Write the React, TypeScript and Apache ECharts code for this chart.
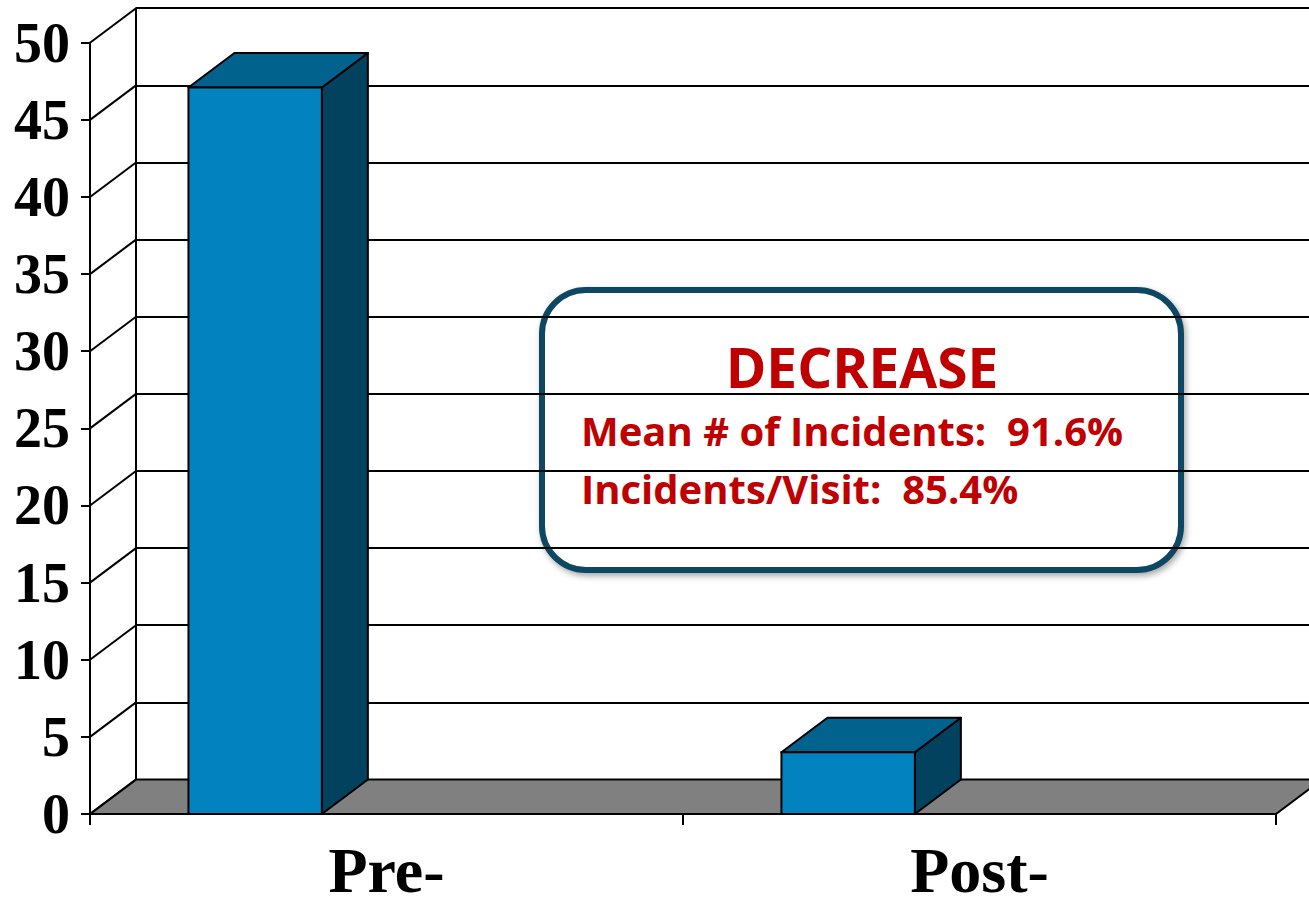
import { useEffect, useRef } from "react";
import * as echarts from "echarts";

// Chart data
const categories = ["Pre-", "Post-"];
const incidents = [47.1, 4.0];
const yTicks = [0, 5, 10, 15, 20, 25, 30, 35, 40, 45, 50];
const boxTitle = "DECREASE";
const boxLines = ["Mean # of Incidents:  91.6%", "Incidents/Visit:  85.4%"];

// 3D projection offset (front plane -> back wall)
const DEPTH_X = 46;
const DEPTH_Y = -34.5;

const FRONT = { left: 90, top: 42.7, width: 1186, height: 771.3 };

export default function App() {
  const ref = useRef<HTMLDivElement>(null);

  useEffect(() => {
    if (!ref.current) return;
    const chart = echarts.init(ref.current, undefined, { renderer: "svg" });

    const stroke = { stroke: "#000", lineWidth: 2 };

    const option: any = {
      animation: false,
      backgroundColor: "#fff",
      grid: [
        { ...FRONT },
        {
          left: FRONT.left + DEPTH_X,
          top: FRONT.top + DEPTH_Y,
          width: FRONT.width,
          height: FRONT.height,
        },
      ],
      xAxis: [
        {
          type: "category",
          gridIndex: 0,
          data: categories,
          boundaryGap: true,
          axisLine: { show: true, lineStyle: { color: "#000", width: 2 } },
          axisTick: { show: true, length: 11, interval: 0, lineStyle: { color: "#000", width: 2 } },
          axisLabel: {
            interval: 0,
            margin: 31,
            lineHeight: 50,
            color: "#000",
            fontFamily: "Liberation Serif",
            fontWeight: "bold",
            fontSize: 64,
          },
        },
        {
          type: "category",
          gridIndex: 1,
          data: categories,
          show: false,
        },
      ],
      yAxis: [
        {
          type: "value",
          gridIndex: 0,
          min: 0,
          max: 50,
          interval: 5,
          axisLine: { show: true, lineStyle: { color: "#000", width: 2 } },
          axisTick: { show: true, length: 9, lineStyle: { color: "#000", width: 2 } },
          splitLine: { show: false },
          axisLabel: {
            margin: 20,
            color: "#000",
            fontFamily: "Liberation Serif",
            fontWeight: "bold",
            fontSize: 56,
          },
        },
        {
          type: "value",
          gridIndex: 1,
          min: 0,
          max: 50,
          interval: 5,
          axisLine: { show: true, lineStyle: { color: "#000", width: 2 } },
          axisTick: { show: false },
          axisLabel: { show: false },
          splitLine: { show: true, lineStyle: { color: "#000", width: 2 } },
        },
      ],
      series: [
        {
          // floor of the plot
          type: "custom",
          xAxisIndex: 0,
          yAxisIndex: 0,
          z: 1,
          data: [[0, 0]],
          encode: { x: 0, y: 1 },
          renderItem: (params: any, api: any) => {
            const cs = params.coordSys;
            const y0 = api.coord([0, 0])[1];
            return {
              type: "polygon",
              shape: {
                points: [
                  [cs.x, y0],
                  [cs.x + DEPTH_X, y0 + DEPTH_Y],
                  [cs.x + cs.width + DEPTH_X, y0 + DEPTH_Y],
                  [cs.x + cs.width, y0],
                ],
              },
              style: { fill: "#808080", ...stroke },
            };
          },
        },
        {
          // side wall lines joining the front axis to the back wall
          type: "custom",
          xAxisIndex: 0,
          yAxisIndex: 0,
          z: 1,
          data: yTicks.map((v) => [0, v]),
          encode: { x: 0, y: 1 },
          renderItem: (params: any, api: any) => {
            const cs = params.coordSys;
            const y = api.coord([0, api.value(1)])[1];
            return {
              type: "line",
              shape: { x1: cs.x, y1: y, x2: cs.x + DEPTH_X, y2: y + DEPTH_Y },
              style: { ...stroke },
            };
          },
        },
        {
          // 3D columns
          type: "custom",
          xAxisIndex: 0,
          yAxisIndex: 0,
          z: 3,
          data: categories.map((c, i) => [i, incidents[i]]),
          encode: { x: 0, y: 1 },
          renderItem: (params: any, api: any) => {
            const idx = api.value(0);
            const val = api.value(1);
            const band = api.size([1, 0])[0];
            const base = api.coord([idx, 0]);
            const top = api.coord([idx, val]);
            const bandStart = base[0] - band / 2;
            const x0 = bandStart + band * 0.166;
            const w = band * 0.225;
            const x1 = x0 + w;
            const yb = base[1];
            const yt = top[1];
            return {
              type: "group",
              children: [
                {
                  type: "polygon",
                  shape: {
                    points: [
                      [x1, yb],
                      [x1 + DEPTH_X, yb + DEPTH_Y],
                      [x1 + DEPTH_X, yt + DEPTH_Y],
                      [x1, yt],
                    ],
                  },
                  style: { fill: "#02425F", ...stroke, lineJoin: "round" },
                },
                {
                  type: "polygon",
                  shape: {
                    points: [
                      [x0, yt],
                      [x0 + DEPTH_X, yt + DEPTH_Y],
                      [x1 + DEPTH_X, yt + DEPTH_Y],
                      [x1, yt],
                    ],
                  },
                  style: { fill: "#01628E", ...stroke, lineJoin: "round" },
                },
                {
                  type: "rect",
                  shape: { x: x0, y: yt, width: w, height: yb - yt },
                  style: { fill: "#0283BF", ...stroke },
                },
              ],
            };
          },
        },
      ],
      graphic: [
        {
          type: "group",
          z: 10,
          children: [
            {
              type: "rect",
              shape: { x: 542, y: 290, width: 639, height: 280, r: 44 },
              style: {
                fill: "#fff",
                stroke: "#0E4662",
                lineWidth: 6,
                shadowBlur: 6,
                shadowOffsetX: 2,
                shadowOffsetY: 3,
                shadowColor: "rgba(0,0,0,0.35)",
              },
            },
            {
              type: "text",
              x: 862,
              y: 366,
              style: {
                text: boxTitle,
                fill: "#C00000",
                font: "bold 55px 'Open Sans'",
                align: "center",
                verticalAlign: "middle",
              },
            },
            {
              type: "text",
              x: 581,
              y: 430,
              style: {
                text: boxLines[0],
                fill: "#C00000",
                font: "bold 40px 'Open Sans'",
                align: "left",
                verticalAlign: "middle",
              },
            },
            {
              type: "text",
              x: 581,
              y: 488,
              style: {
                text: boxLines[1],
                fill: "#C00000",
                font: "bold 40px 'Open Sans'",
                align: "left",
                verticalAlign: "middle",
              },
            },
          ],
        },
      ],
    };

    chart.setOption(option);
    return () => chart.dispose();
  }, []);

  return (
    <div
      ref={ref}
      style={{ position: "absolute", left: 0, top: 0, width: 1309, height: 907 }}
    />
  );
}
